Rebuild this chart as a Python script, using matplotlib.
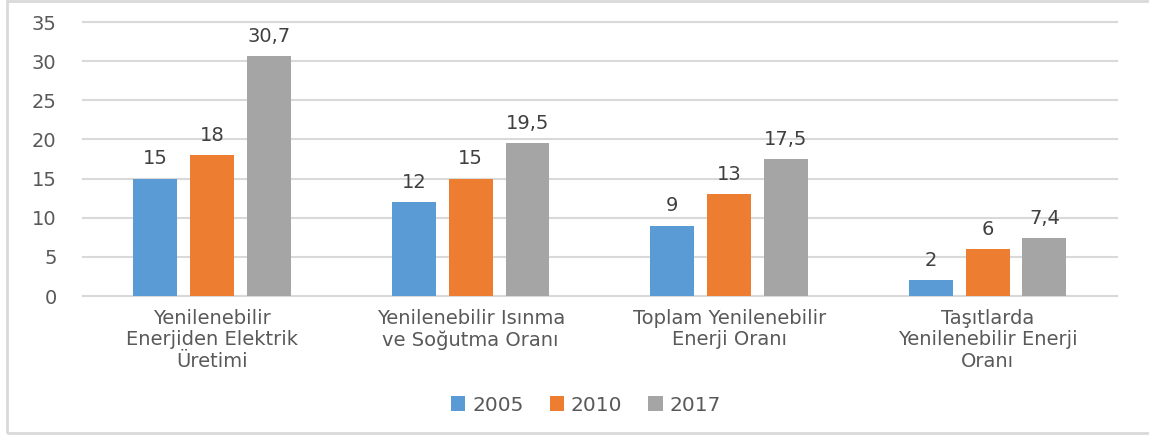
import numpy as np
import matplotlib.pyplot as plt
from matplotlib.patches import Rectangle

plt.rcParams['font.family'] = ['DejaVu Sans']

categories = ['Yenilenebilir\nEnerjiden Elektrik\nÜretimi',
              'Yenilenebilir Isınma\nve Soğutma Oranı',
              'Toplam Yenilenebilir\nEnerji Oranı',
              'Taşıtlarda\nYenilenebilir Enerji\nOranı']
years = ['2005', '2010', '2017']
v2005 = [15, 12, 9, 2]
v2010 = [18, 15, 13, 6]
v2017 = [30.7, 19.5, 17.5, 7.4]
colors = ['#5b9bd5', '#ed7d31', '#a5a5a5']
text_col = '#595959'

fig = plt.figure(figsize=(11.49, 4.36), dpi=100)
ax = fig.add_axes([0.0722, 0.321, 0.8998, 0.6285])

x = np.arange(len(categories))
w = 0.17
offs = [-0.22, 0, 0.22]
for vals, off, c, yr in zip([v2005, v2010, v2017], offs, colors, years):
    bars = ax.bar(x + off, vals, w, color=c, label=yr, zorder=3)
    for b, v in zip(bars, vals):
        lab = ('%g' % v).replace('.', ',')
        ax.text(b.get_x() + b.get_width() / 2, v + 1.3, lab,
                ha='center', va='bottom', fontsize=14, color='#404040')

ax.set_xlim(-0.5, 3.5)
ax.set_ylim(0, 35)
ax.set_yticks(range(0, 36, 5))
ax.yaxis.grid(True, color='#d9d9d9', linewidth=1.5, zorder=0)
for gl in ax.get_ygridlines():
    gl.set_clip_on(False)
ax.set_axisbelow(True)
for s in ['top', 'right', 'left']:
    ax.spines[s].set_visible(False)
ax.spines['bottom'].set_color('#d9d9d9')
ax.spines['bottom'].set_linewidth(1.5)
ax.tick_params(axis='y', length=0, pad=19, labelsize=14, labelcolor=text_col)
ax.tick_params(axis='x', length=0, pad=9, labelsize=14, labelcolor=text_col)
ax.set_xticks(x)
ax.set_xticklabels(categories, linespacing=1.18)

fig.legend(loc='center', bbox_to_anchor=(0.51, 0.071), ncol=3, frameon=False,
           fontsize=14.5, labelcolor=text_col, handlelength=0.7, handleheight=0.7,
           handletextpad=0.35, columnspacing=1.3)

# chart border
fig.patches.append(Rectangle((0.006, 0.008), 1.2, 0.99, transform=fig.transFigure,
                             fill=False, edgecolor='#d9d9d9', linewidth=2))

fig.savefig('out.png', dpi=100)
